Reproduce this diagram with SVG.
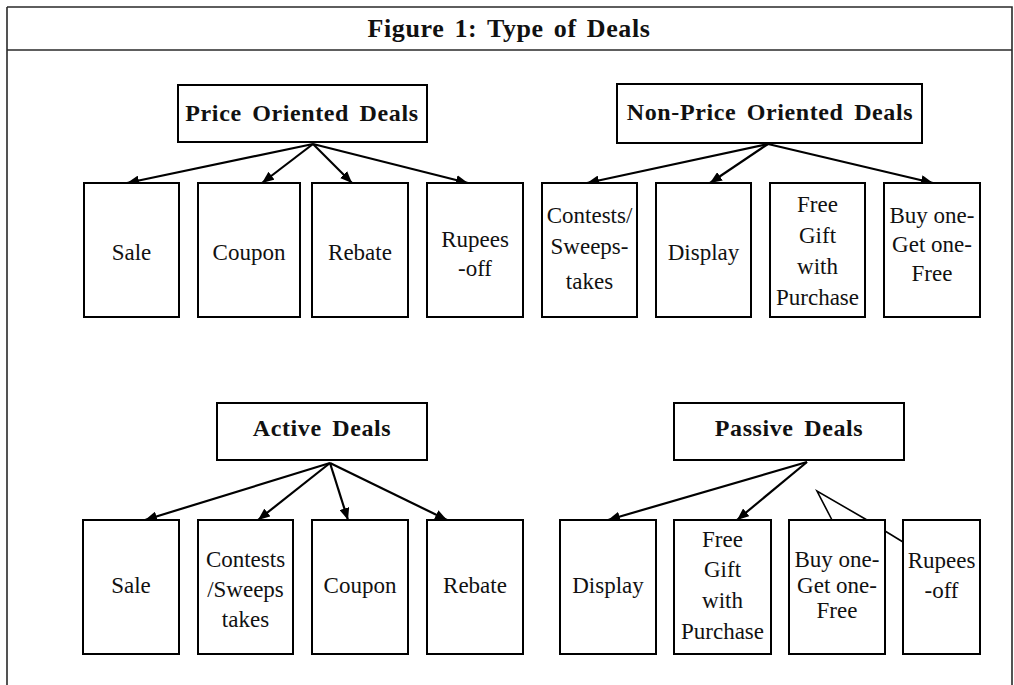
<svg xmlns="http://www.w3.org/2000/svg" width="1014" height="685" viewBox="0 0 1014 685">
  <style>
    .frame { fill: none; stroke: #2a2a2a; stroke-width: 1.6; }
    .box { fill: #ffffff; stroke: #000000; stroke-width: 2; }
    .title { font-family: "Liberation Serif", "Times New Roman", serif; font-size: 26px; font-weight: bold; fill: #111; word-spacing: 3px; letter-spacing: 0.6px; }
    .head { font-family: "Liberation Serif", "Times New Roman", serif; font-size: 24px; font-weight: bold; fill: #111; word-spacing: 4px; letter-spacing: 0.6px; }
    .lbl { font-family: "Liberation Serif", "Times New Roman", serif; font-size: 23px; fill: #111; }
    .arrow { fill: none; stroke: #000000; stroke-width: 2.2; marker-end: url(#tip); }
    .stray { fill: none; stroke: #000000; stroke-width: 1.6; }
    text { text-anchor: middle; }
  </style>
  <defs>
    <marker id="tip" markerUnits="userSpaceOnUse" markerWidth="12" markerHeight="10" refX="12" refY="5" orient="auto">
      <path d="M0,0 L12,5 L0,10 z" fill="#000000"/>
    </marker>
  </defs>

  <rect width="1014" height="685" fill="#ffffff"/>

  <!-- page frame with title row -->
  <g id="frame">
    <path class="frame" d="M7,7 H1012 V685 M7,7 V685 M7,50 H1012"/>
    <text class="title" x="509" y="37">Figure 1: Type of Deals</text>
  </g>

  <!-- connectors -->
  <g id="connectors">
    <line class="arrow" x1="313" y1="144" x2="127" y2="183"/>
    <line class="arrow" x1="313" y1="144" x2="262" y2="183"/>
    <line class="arrow" x1="313" y1="144" x2="352" y2="183"/>
    <line class="arrow" x1="313" y1="144" x2="468" y2="183"/>

    <line class="arrow" x1="768" y1="144" x2="587" y2="183"/>
    <line class="arrow" x1="768" y1="144" x2="710" y2="183"/>
    <line class="arrow" x1="768" y1="144" x2="933" y2="183"/>

    <line class="arrow" x1="330" y1="463" x2="145" y2="520"/>
    <line class="arrow" x1="330" y1="463" x2="258" y2="520"/>
    <line class="arrow" x1="330" y1="463" x2="348" y2="520"/>
    <line class="arrow" x1="330" y1="463" x2="447" y2="520"/>

    <line class="arrow" x1="807" y1="462" x2="608" y2="520"/>
    <line class="arrow" x1="807" y1="462" x2="737" y2="520"/>
    <polyline class="stray" points="832,520 817,491 867,520"/>
    <line class="stray" x1="867" y1="520" x2="903" y2="542"/>
  </g>

  <!-- price oriented deals -->
  <g id="price-oriented">
    <rect class="box" x="178" y="85" width="249" height="57"/>
    <text class="head" x="302" y="121">Price Oriented Deals</text>
  </g>
  <g id="p-sale">
    <rect class="box" x="84" y="183" width="95" height="134"/>
    <text class="lbl" x="131.5" y="260">Sale</text>
  </g>
  <g id="p-coupon">
    <rect class="box" x="198" y="183" width="102" height="134"/>
    <text class="lbl" x="249" y="260">Coupon</text>
  </g>
  <g id="p-rebate">
    <rect class="box" x="312" y="183" width="96" height="134"/>
    <text class="lbl" x="360" y="260">Rebate</text>
  </g>
  <g id="p-rupees">
    <rect class="box" x="427" y="183" width="96" height="134"/>
    <text class="lbl" x="475" y="247">Rupees</text>
    <text class="lbl" x="475" y="276">-off</text>
  </g>

  <!-- non-price oriented deals -->
  <g id="non-price-oriented">
    <rect class="box" x="617" y="84" width="305" height="59"/>
    <text class="head" x="770" y="120">Non-Price Oriented Deals</text>
  </g>
  <g id="n-contests">
    <rect class="box" x="542" y="183" width="95" height="134"/>
    <text class="lbl" x="589.5" y="223">Contests/</text>
    <text class="lbl" x="589.5" y="254">Sweeps-</text>
    <text class="lbl" x="589.5" y="289">takes</text>
  </g>
  <g id="n-display">
    <rect class="box" x="656" y="183" width="95" height="134"/>
    <text class="lbl" x="703.5" y="260">Display</text>
  </g>
  <g id="n-free-gift">
    <rect class="box" x="770" y="183" width="95" height="134"/>
    <text class="lbl" x="817.5" y="212">Free</text>
    <text class="lbl" x="817.5" y="243">Gift</text>
    <text class="lbl" x="817.5" y="274">with</text>
    <text class="lbl" x="817.5" y="305">Purchase</text>
  </g>
  <g id="n-buy-one">
    <rect class="box" x="884" y="183" width="96" height="134"/>
    <text class="lbl" x="932" y="223">Buy one-</text>
    <text class="lbl" x="932" y="252">Get one-</text>
    <text class="lbl" x="932" y="281">Free</text>
  </g>

  <!-- active deals -->
  <g id="active">
    <rect class="box" x="217" y="403" width="210" height="57"/>
    <text class="head" x="322" y="436">Active Deals</text>
  </g>
  <g id="a-sale">
    <rect class="box" x="83" y="520" width="96" height="134"/>
    <text class="lbl" x="131" y="593">Sale</text>
  </g>
  <g id="a-contests">
    <rect class="box" x="198" y="520" width="95" height="134"/>
    <text class="lbl" x="245.5" y="567">Contests</text>
    <text class="lbl" x="245.5" y="597">/Sweeps</text>
    <text class="lbl" x="245.5" y="627">takes</text>
  </g>
  <g id="a-coupon">
    <rect class="box" x="312" y="520" width="96" height="134"/>
    <text class="lbl" x="360" y="593">Coupon</text>
  </g>
  <g id="a-rebate">
    <rect class="box" x="427" y="520" width="96" height="134"/>
    <text class="lbl" x="475" y="593">Rebate</text>
  </g>

  <!-- passive deals -->
  <g id="passive">
    <rect class="box" x="674" y="403" width="230" height="57"/>
    <text class="head" x="789" y="436">Passive Deals</text>
  </g>
  <g id="s-display">
    <rect class="box" x="560" y="520" width="96" height="134"/>
    <text class="lbl" x="608" y="593">Display</text>
  </g>
  <g id="s-free-gift">
    <rect class="box" x="674" y="520" width="97" height="134"/>
    <text class="lbl" x="722.5" y="547">Free</text>
    <text class="lbl" x="722.5" y="577">Gift</text>
    <text class="lbl" x="722.5" y="608">with</text>
    <text class="lbl" x="722.5" y="639">Purchase</text>
  </g>
  <g id="s-buy-one">
    <rect class="box" x="789" y="520" width="96" height="134"/>
    <text class="lbl" x="837" y="567">Buy one-</text>
    <text class="lbl" x="837" y="593">Get one-</text>
    <text class="lbl" x="837" y="618">Free</text>
  </g>
  <g id="s-rupees">
    <rect class="box" x="903" y="520" width="77" height="134"/>
    <text class="lbl" x="941.5" y="568">Rupees</text>
    <text class="lbl" x="941.5" y="598">-off</text>
  </g>
</svg>
